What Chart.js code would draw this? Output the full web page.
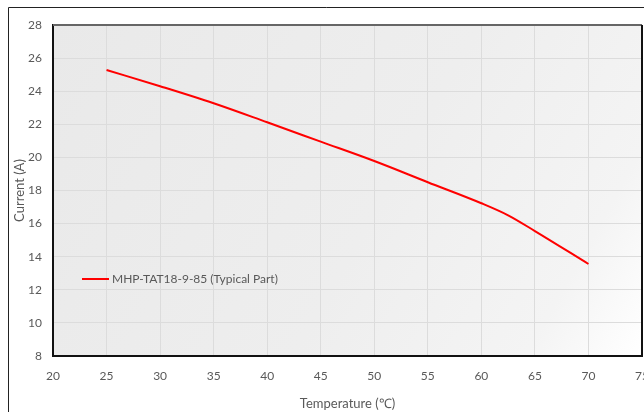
<!DOCTYPE html>
<html>
<head>
<meta charset="utf-8">
<script src="https://cdn.jsdelivr.net/npm/chart.js@4/dist/chart.umd.min.js"></script>
<style>
    html, body { margin: 0; padding: 0; background: #fff; }
    #wrap { width: 644px; height: 412px; }
</style>
</head>
<body>
<div id="wrap"><canvas id="chart"></canvas></div>
<script>
    // Data
    const temps = [25, 30, 35, 40, 45, 50, 55, 60, 62.5, 65, 70];
    const currents = [25.28, 24.3, 23.27, 22.12, 20.95, 19.78, 18.5, 17.23, 16.5, 15.55, 13.56];
    const seriesLabel = "MHP-TAT18-9-85 (Typical Part)";
    const xTitle = "Temperature (℃)";
    const yTitle = "Current (A)";

    const tickFont = { family: "Lato", size: 12 };
    const tickColor = "#595959";

    // background, frame, plot border and in-plot legend
    const decor = {
        id: "decor",
        beforeDraw(chart) {
            const { ctx, chartArea: a } = chart;
            ctx.save();
            ctx.fillStyle = "#fff";
            ctx.fillRect(0, 0, chart.width, chart.height);
            ctx.strokeStyle = "#222";
            ctx.lineWidth = 1;
            ctx.beginPath();
            ctx.moveTo(8.5, chart.height + 2);
            ctx.lineTo(8.5, 7.5);
            ctx.lineTo(chart.width + 2, 7.5);
            ctx.stroke();
            const g = ctx.createLinearGradient(a.left, a.top, a.right, a.bottom);
            g.addColorStop(0, "#e9e9e9");
            g.addColorStop(0.55, "#eeeeee");
            g.addColorStop(0.85, "#f4f4f4");
            g.addColorStop(1, "#ffffff");
            ctx.fillStyle = g;
            ctx.fillRect(a.left, a.top, a.right - a.left, a.bottom - a.top);
            ctx.restore();
        },
        afterDraw(chart) {
            const { ctx, chartArea: a } = chart;
            ctx.save();
            ctx.lineWidth = 2;
            ctx.strokeStyle = "#666";
            ctx.beginPath();
            ctx.moveTo(a.left, a.top);
            ctx.lineTo(a.right, a.top);
            ctx.stroke();
            ctx.strokeStyle = "#111";
            ctx.beginPath();
            ctx.moveTo(a.right, a.top);
            ctx.lineTo(a.right, a.bottom);
            ctx.stroke();
            // legend
            const ds = chart.data.datasets[0];
            const ly = 279;
            ctx.strokeStyle = ds.borderColor;
            ctx.lineWidth = 2;
            ctx.beginPath();
            ctx.moveTo(82, ly);
            ctx.lineTo(109, ly);
            ctx.stroke();
            ctx.fillStyle = tickColor;
            ctx.font = "12px Lato";
            ctx.textBaseline = "middle";
            ctx.fillText(ds.label, 112, ly);
            ctx.restore();
        },
    };

    new Chart(document.getElementById("chart"), {
        type: "line",
        data: {
            datasets: [
                {
                    label: seriesLabel,
                    data: temps.map((t, i) => ({ x: t, y: currents[i] })),
                    borderColor: "#ff0000",
                    borderWidth: 2,
                    pointRadius: 0,
                    cubicInterpolationMode: "monotone",
                    fill: false,
                },
            ],
        },
        options: {
            responsive: true,
            maintainAspectRatio: false,
            animation: false,
            layout: { padding: { left: 0, top: 25, right: 2, bottom: 0 } },
            plugins: {
                legend: { display: false },
                tooltip: { enabled: false },
            },
            scales: {
                x: {
                    type: "linear",
                    min: 20,
                    max: 75,
                    ticks: { stepSize: 5, color: tickColor, font: tickFont, padding: 13, maxRotation: 0 },
                    grid: { color: "#dcdcdc", drawTicks: false },
                    border: { color: "#111", width: 2 },
                    title: { display: true, text: xTitle, color: tickColor, font: { family: "Lato", size: 13 }, padding: 0 },
                    afterFit: (s) => {
                        s.height = 56;
                        s.paddingLeft = 0;
                        s.paddingRight = 0;
                    },
                },
                y: {
                    min: 8,
                    max: 28,
                    ticks: { stepSize: 2, color: tickColor, font: tickFont, padding: 11 },
                    grid: { color: "#dcdcdc", drawTicks: false },
                    border: { color: "#111", width: 2 },
                    title: { display: true, text: yTitle, color: tickColor, font: { family: "Lato", size: 13 }, padding: { top: 12, bottom: 0 } },
                    afterFit: (s) => {
                        s.width = 53;
                        s.paddingTop = 0;
                        s.paddingBottom = 0;
                    },
                },
            },
        },
        plugins: [decor],
    });
</script>
</body>
</html>
